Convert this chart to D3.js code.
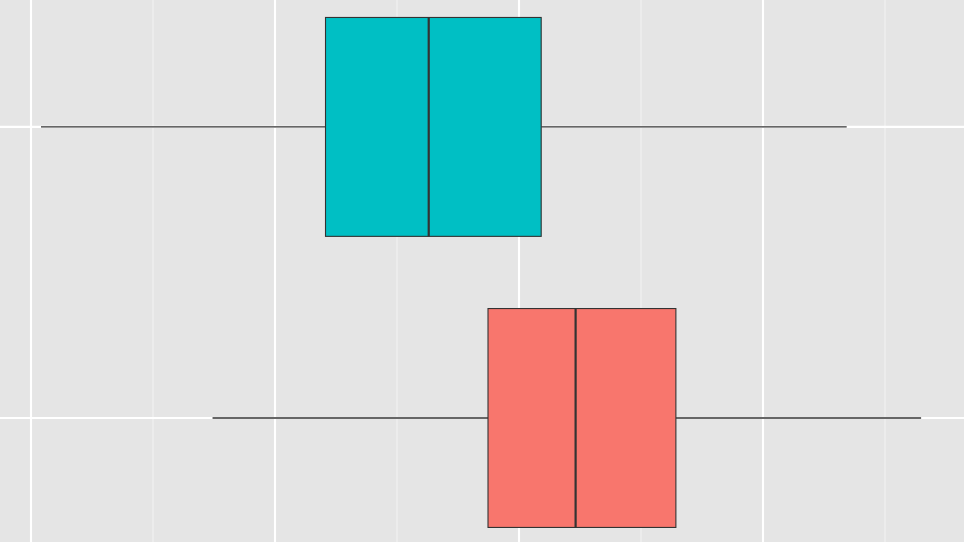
<!DOCTYPE html>
<html>
<head>
<meta charset="utf-8">
<script src="https://cdn.jsdelivr.net/npm/d3@7"></script>
<style>
html,body{margin:0;padding:0;background:#E5E5E5;}
svg{display:block;}
</style>
</head>
<body>
<svg id="chart" width="964" height="542"></svg>
<script>
// Data
const categories = ["A", "B"];            // A = bottom (red), B = top (teal)
const colors = ["#F8766D", "#00BFC4"];
const lower = [17.44, 10.41];
const q1 = [28.73, 22.07];
const median = [32.32, 26.30];
const q3 = [36.43, 30.91];
const upper = [46.48, 43.43];
const majorTicks = [10, 20, 30, 40];
const minorTicks = [15, 25, 35, 45];

const W = 964, H = 542;
const svg = d3.select("#chart");

const x = d3.scaleLinear().domain([8.7295, 48.238]).range([0, W]);
const y = d3.scaleLinear().domain([0.574, 2.436]).range([H, 0]);
const boxHalf = 0.376;

svg.append("rect").attr("width", W).attr("height", H).attr("fill", "#E5E5E5");

// minor vertical grid
svg.selectAll("line.minor").data(minorTicks).enter().append("line")
  .attr("x1", d => x(d)).attr("x2", d => x(d)).attr("y1", 0).attr("y2", H)
  .attr("stroke", "#F2F2F2").attr("stroke-width", 1.1);
// major vertical grid
svg.selectAll("line.major").data(majorTicks).enter().append("line")
  .attr("x1", d => x(d)).attr("x2", d => x(d)).attr("y1", 0).attr("y2", H)
  .attr("stroke", "#FFFFFF").attr("stroke-width", 2.1);
// major horizontal grid
svg.selectAll("line.hmajor").data(categories).enter().append("line")
  .attr("x1", 0).attr("x2", W).attr("y1", (d, i) => y(i + 1)).attr("y2", (d, i) => y(i + 1))
  .attr("stroke", "#FFFFFF").attr("stroke-width", 2.1);

const g = svg.selectAll("g.box").data(categories).enter().append("g");

// whiskers
g.append("line")
  .attr("x1", (d, i) => x(lower[i])).attr("x2", (d, i) => x(q1[i]))
  .attr("y1", (d, i) => y(i + 1)).attr("y2", (d, i) => y(i + 1))
  .attr("stroke", "#333333").attr("stroke-width", 1.4);
g.append("line")
  .attr("x1", (d, i) => x(q3[i])).attr("x2", (d, i) => x(upper[i]))
  .attr("y1", (d, i) => y(i + 1)).attr("y2", (d, i) => y(i + 1))
  .attr("stroke", "#333333").attr("stroke-width", 1.4);
// boxes
g.append("rect")
  .attr("x", (d, i) => x(q1[i]))
  .attr("width", (d, i) => x(q3[i]) - x(q1[i]))
  .attr("y", (d, i) => y(i + 1 + boxHalf))
  .attr("height", (d, i) => y(i + 1 - boxHalf) - y(i + 1 + boxHalf))
  .attr("fill", (d, i) => colors[i])
  .attr("stroke", "#333333").attr("stroke-width", 1.1);
// medians
g.append("line")
  .attr("x1", (d, i) => x(median[i])).attr("x2", (d, i) => x(median[i]))
  .attr("y1", (d, i) => y(i + 1 + boxHalf)).attr("y2", (d, i) => y(i + 1 - boxHalf))
  .attr("stroke", "#333333").attr("stroke-width", 2.2);
</script>
</body>
</html>
